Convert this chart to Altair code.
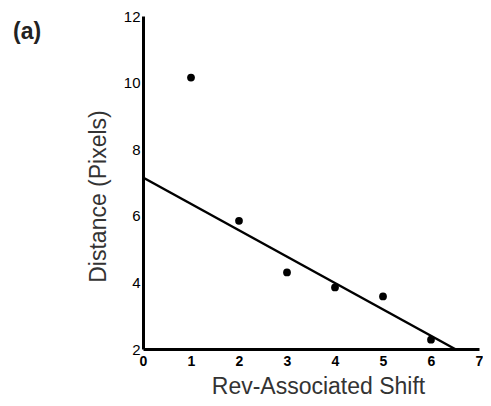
import altair as alt
import pandas as pd

shift = [1, 2, 3, 4, 5, 6]
distance = [10.15, 5.85, 4.3, 3.85, 3.58, 2.28]

fit_x = [0, 6.5]
fit_y = [7.15, 2.0]

pts = pd.DataFrame({"x": shift, "y": distance})
fit = pd.DataFrame({"x": fit_x, "y": fit_y})

FONT = "Liberation Sans"

xscale = alt.Scale(domain=[0, 7], nice=False, zero=False)
yscale = alt.Scale(domain=[2, 12], nice=False, zero=False)

xaxis = alt.Axis(title="Rev-Associated Shift", values=[0, 1, 2, 3, 4, 5, 6, 7], titleX=175)
yaxis = alt.Axis(title="Distance (Pixels)", values=[2, 4, 6, 8, 10, 12], titleY=180)

points = alt.Chart(pts).mark_point(filled=True, color="black", size=60, opacity=1, shape="circle").encode(
    x=alt.X("x:Q", scale=xscale, axis=xaxis),
    y=alt.Y("y:Q", scale=yscale, axis=yaxis),
)
line = alt.Chart(fit).mark_line(color="black", strokeWidth=2.5).encode(
    x=alt.X("x:Q", scale=xscale, axis=xaxis),
    y=alt.Y("y:Q", scale=yscale, axis=yaxis),
)

chart = alt.layer(line, points).properties(
    width=336, height=333,
    autosize=alt.AutoSizeParams(type="none"),
    padding={"left": 135, "top": 8, "right": 4, "bottom": 49},
    title=alt.TitleParams(text="(a)", anchor="start", frame="group", font=FONT, fontSize=23,
                          fontWeight="bold", color="#222222", dx=-130, dy=57,
                          baseline="alphabetic"),
).configure_view(stroke=None).configure_axis(
    ticks=False, grid=False, domainColor="black", domainWidth=3,
    labelFont=FONT, labelColor="black", labelFlush=False,
    titleFont=FONT, titleFontSize=23, titleFontWeight="normal", titleColor="#333333",
).configure_axisX(
    labelFontWeight="bold", labelFontSize=14, labelPadding=5, titlePadding=7,
).configure_axisY(
    labelFontSize=15, labelPadding=3, titlePadding=13,
)

chart.save("out.html", embed_options={"renderer": "svg", "actions": False})
